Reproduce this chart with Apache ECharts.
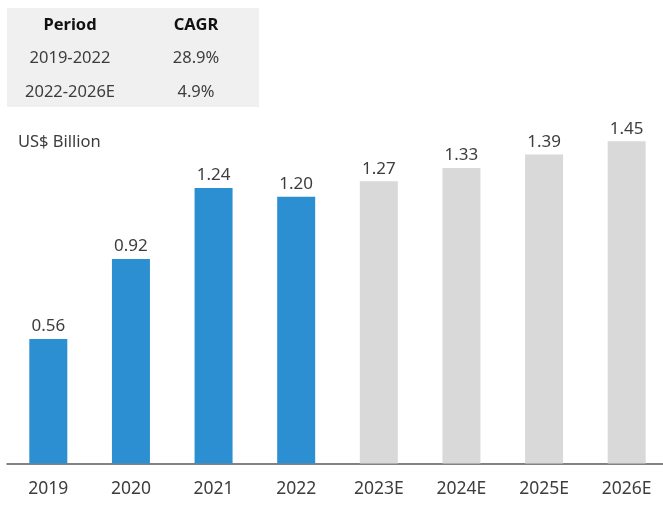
<!DOCTYPE html>
<html>
<head>
<meta charset="utf-8">
<script src="https://cdn.jsdelivr.net/npm/echarts@6/dist/echarts.min.js"></script>
<style>
  html, body { margin: 0; padding: 0; background: #fff; overflow: hidden; }
  /* a little wider than the window: the last category runs off the right edge in the original */
  #main { width: 668px; height: 507px; }
</style>
</head>
<body>
<div id="main"></div>
<script>
const years = ['2019', '2020', '2021', '2022', '2023E', '2024E', '2025E', '2026E'];
const marketSize = [0.56, 0.92, 1.24, 1.20, 1.27, 1.33, 1.39, 1.45];
const isForecast = [false, false, false, false, true, true, true, true];
const tableHeader = ['Period', 'CAGR'];
const tablePeriods = ['2019-2022', '2022-2026E'];
const tableCagr = ['28.9%', '4.9%'];
const unitLabel = 'US$ Billion';

const FONT = '"Noto Sans", "Open Sans", sans-serif';
const TEXT = '#3d3d3d';

const chart = echarts.init(document.getElementById('main'));

// table in the top left corner
const rowY = [25, 58, 92];
const tableGraphics = [
  {type: 'rect', left: 7, top: 8, shape: {width: 252, height: 99}, style: {fill: '#f0f0f0'}}
];
const rows = [tableHeader].concat(tablePeriods.map((p, i) => [p, tableCagr[i]]));
rows.forEach((r, i) => {
  const font = i === 0 ? 'bold 16.5px ' + FONT : '16.5px ' + FONT;
  const fill = i === 0 ? '#111' : TEXT;
  tableGraphics.push({
    type: 'text', x: 70, y: rowY[i],
    style: {text: r[0], fill: fill, font: font, align: 'center', verticalAlign: 'middle'}
  });
  tableGraphics.push({
    type: 'text', x: 196, y: rowY[i],
    style: {text: r[1], fill: fill, font: font, align: 'center', verticalAlign: 'middle'}
  });
});
tableGraphics.push({
  type: 'text', x: 18, y: 142,
  style: {text: unitLabel, fill: TEXT, font: '16.5px ' + FONT, align: 'left', verticalAlign: 'middle'}
});

const option = {
  animation: false,
  textStyle: {fontFamily: FONT},
  grid: {left: 7, top: 19, right: 0, bottom: 43.5, containLabel: false},
  xAxis: {
    type: 'category',
    data: years,
    axisLine: {lineStyle: {color: '#595959', width: 1.5}},
    axisTick: {show: false},
    axisLabel: {color: TEXT, fontSize: 17.5, margin: 17, fontFamily: FONT}
  },
  yAxis: {
    type: 'value',
    min: 0,
    max: 2,
    show: false
  },
  series: [{
    type: 'bar',
    barWidth: 38,
    data: marketSize.map((v, i) => ({
      value: v,
      itemStyle: {color: isForecast[i] ? '#d9d9d9' : '#2b8fd1'}
    })),
    label: {
      show: true,
      position: 'top',
      distance: 4,
      color: TEXT,
      fontSize: 17,
      fontFamily: FONT,
      formatter: p => p.value.toFixed(2)
    }
  }],
  graphic: tableGraphics
};
chart.setOption(option);
</script>
</body>
</html>
